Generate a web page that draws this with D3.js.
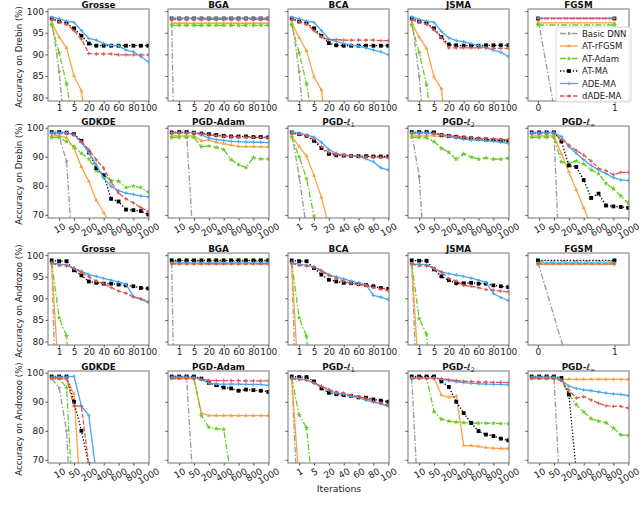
<!DOCTYPE html>
<html>
<head>
<meta charset="utf-8">
<script src="https://cdn.jsdelivr.net/npm/d3@7"></script>
<style>
  body { margin: 0; background: #fff; }
  svg { display: block; }
  text { font-family: 'DejaVu Sans', sans-serif; }
</style>
</head>
<body>
<svg width="640" height="509" id="mainsvg"></svg>
<script>
// series and tick labels
const seriesNames = ['Basic DNN', 'AT-rFGSM', 'AT-Adam', 'AT-MA', 'ADE-MA', 'dADE-MA'];
const ticks100 = ['1', '5', '20', '40', '60', '80', '100'];
const ticks1000 = ['10', '50', '200', '400', '600', '800', '1000'];
const ticksFgsm = ['0', '1'];
const tickIdx = [1, 3, 5, 7, 9, 11, 13];
const titlesA = ['Grosse', 'BGA', 'BCA', 'JSMA', 'FGSM'];
const titlesB = ['GDKDE', 'PGD-Adam', 'PGD-ℓ1', 'PGD-ℓ2', 'PGD-ℓ∞'];
const yTicksA = [80, 85, 90, 95, 100];
const yTicksB = [70, 80, 90, 100];

// accuracy values, one array per series (order as seriesNames), x = point index
const drebinGrosse = [
  [98.3, 86, 67.5],
  [97.3, 94.0, 91.5, 85.0, 81.5, 70],
  [96.8, 90.3, 83.2, 72],
  [98.3, 97.6, 97.2, 96.0, 94.3, 92.5, 92.0, 92.0, 92.0, 92.0, 92.0, 92.0, 92.0, 92.0],
  [98.6, 98.2, 97.7, 97.4, 95.5, 93.7, 93.3, 92.5, 92.1, 92.0, 91.0, 90.6, 89.5, 88.3],
  [98.1, 97.5, 97.0, 95.5, 93.5, 90.2, 90.1, 90.1, 90.1, 89.9, 89.9, 89.9, 89.9, 89.9]
];
const drebinBGA = [
  [98.3, 0],
  [97.2, 97.2, 97.2, 97.2, 97.2, 97.2, 97.2, 97.2, 97.2, 97.2, 97.2, 97.2, 97.2, 97.2],
  [96.7, 96.7, 96.7, 96.7, 96.7, 96.7, 96.7, 96.7, 96.7, 96.7, 96.7, 96.7, 96.7, 96.7],
  [98.3, 98.3, 98.3, 98.3, 98.3, 98.3, 98.3, 98.3, 98.3, 98.3, 98.3, 98.3, 98.3, 98.3],
  [98.4, 98.4, 98.4, 98.4, 98.4, 98.4, 98.4, 98.4, 98.4, 98.4, 98.4, 98.4, 98.4, 98.4],
  [98.1, 98.1, 98.1, 98.1, 98.1, 98.1, 98.1, 98.1, 98.1, 98.1, 98.1, 98.1, 98.1, 98.1]
];
const drebinBCA = [
  [98.3, 86, 67],
  [97.3, 93.9, 90.8, 84.8, 81.7, 68],
  [96.8, 90.3, 83.2, 72],
  [98.3, 97.6, 97.2, 96.0, 94.3, 92.6, 92.1, 92.0, 92.0, 92.0, 92.0, 92.0, 92.0, 92.0],
  [98.6, 98.2, 97.7, 97.4, 95.5, 93.5, 93.0, 92.5, 92.2, 91.9, 91.5, 91.0, 90.6, 89.9],
  [98.1, 97.5, 97.0, 95.5, 94.0, 93.4, 93.4, 93.3, 93.3, 93.3, 93.3, 93.3, 93.2, 93.2]
];
const drebinJSMA = [
  [98.3, 85, 65],
  [97.2, 94.0, 91.4, 84.8, 82.0, 65],
  [96.8, 90.4, 83.0, 70],
  [98.3, 97.6, 97.2, 96.0, 94.0, 92.3, 92.1, 92.0, 92.0, 92.0, 92.1, 92.1, 92.1, 92.1],
  [98.7, 98.1, 97.7, 97.4, 95.3, 93.8, 93.2, 92.9, 92.5, 92.0, 91.5, 91.0, 90.5, 89.5],
  [98.0, 97.5, 97.0, 95.7, 93.8, 91.5, 91.5, 91.5, 91.5, 91.5, 91.5, 91.4, 91.4, 91.4]
];
const drebinFGSM = [
  [98.3, 0],
  [97.3, 97.3],
  [96.8, 96.8],
  [98.3, 98.3],
  [98.4, 98.4],
  [98.3, 98.3]
];
const drebinGDKDE = [
  [98.3, 97.0, 88.5, 50],
  [97.2, 97.2, 96.5, 93.0, 86.5, 81.5, 75.0, 70.8, 66],
  [96.6, 96.7, 95.2, 93.5, 91.2, 89.2, 85.2, 83.8, 81.8, 81.6, 79.4, 79.9, 79.4, 77.9],
  [98.5, 98.5, 98.3, 97.8, 95.5, 91.5, 86.1, 83.6, 75.5, 74.6, 71.8, 71.6, 71.3, 70.1],
  [98.3, 98.3, 98.3, 97.6, 94.9, 91.4, 87.2, 82.7, 79.8, 78.3, 77.5, 77.0, 76.5, 76.2],
  [98.0, 98.0, 98.0, 97.5, 95.2, 92.4, 88.9, 86.1, 81.2, 77.5, 75.5, 74.1, 72.5, 71.2]
];
const drebinPGDAdam = [
  [98.3, 98.3, 98.3, 56],
  [97.2, 97.2, 97.2, 97.2, 95.5, 95.8, 95.0, 94.5, 94.0, 93.6, 93.5, 93.5, 93.4, 93.4],
  [96.6, 96.7, 96.7, 96.7, 93.5, 93.7, 93.2, 92.5, 89.0, 87.3, 86.3, 89.7, 89.3, 89.3],
  [98.4, 98.5, 98.5, 98.3, 98.0, 97.8, 97.5, 97.2, 97.0, 97.0, 97.0, 96.8, 96.8, 96.7],
  [98.3, 98.3, 98.3, 98.3, 97.5, 96.5, 95.9, 95.6, 95.3, 95.2, 95.1, 95.0, 95.0, 94.9],
  [98.2, 98.2, 98.2, 98.2, 97.9, 97.5, 97.3, 97.1, 96.9, 96.8, 96.7, 96.7, 96.6, 96.5]
];
const drebinPGDl1 = [
  [98.3, 83.2, 65],
  [97.3, 93.5, 90.2, 83.5, 76.0, 66],
  [96.8, 90.0, 82.5, 69.5],
  [98.4, 97.8, 97.2, 95.5, 93.0, 91.0, 90.5, 90.4, 90.3, 90.2, 90.2, 90.1, 90.1, 90.1],
  [98.5, 98.2, 97.5, 96.8, 95.0, 92.5, 91.2, 90.6, 90.4, 90.1, 89.3, 88.3, 86.2, 85.5],
  [98.0, 97.7, 97.2, 96.0, 93.5, 91.5, 90.8, 90.5, 90.3, 90.1, 90.0, 89.9, 89.8, 89.7]
];
const drebinPGDl2 = [
  [98.3, 83.2, 44],
  [97.2, 97.2, 97.2, 97.2, 97.0, 96.8, 96.5, 96.2, 96.0, 95.8, 95.6, 95.5, 95.4, 95.3],
  [96.7, 96.7, 96.6, 95.2, 92.9, 91.5, 89.2, 91.0, 89.9, 89.2, 89.6, 89.2, 89.2, 89.5],
  [98.5, 98.5, 98.5, 98.4, 97.5, 97.2, 96.9, 96.6, 96.4, 96.2, 96.0, 95.8, 95.6, 95.5],
  [98.3, 98.3, 98.3, 98.0, 97.5, 97.0, 96.5, 96.0, 95.8, 95.8, 95.5, 95.3, 95.0, 94.6],
  [98.0, 98.0, 98.0, 97.9, 97.6, 97.3, 97.0, 96.8, 96.6, 96.4, 96.3, 96.2, 96.0, 95.9]
];
const drebinPGDlinf = [
  [98.3, 98.3, 98.3, 98.3, 36],
  [97.2, 97.2, 97.2, 97.2, 91.0, 84.8, 78.6, 72.4, 66],
  [96.7, 96.7, 96.7, 96.7, 88.2, 87.8, 88.5, 87.5, 85.5, 84.2, 80.8, 79.0, 76.5, 74.0],
  [98.4, 98.4, 98.4, 98.4, 95.3, 87.0, 86.5, 82.0, 75.8, 77.3, 73.2, 72.9, 72.7, 72.4],
  [98.3, 98.3, 98.3, 98.3, 97.0, 93.5, 91.2, 89.0, 87.0, 85.5, 84.2, 82.8, 82.0, 81.8],
  [98.0, 98.0, 98.0, 98.0, 96.0, 94.0, 92.2, 90.6, 88.5, 86.0, 85.2, 83.8, 84.6, 84.6]
];
const androGrosse = [
  [98.3, 43],
  [98.0, 70],
  [98.2, 85.5, 81.3, 58],
  [98.8, 98.6, 98.6, 96.5, 95.3, 93.9, 93.6, 93.4, 93.4, 93.2, 93.0, 92.8, 92.4, 92.3],
  [98.3, 97.9, 97.8, 96.9, 96.3, 95.5, 95.1, 94.6, 94.2, 93.8, 93.3, 90.4, 89.8, 89.0],
  [98.1, 97.6, 97.5, 97.0, 96.0, 95.0, 94.0, 93.4, 92.5, 91.7, 91.2, 90.3, 89.9, 89.3]
];
const androBGA = [
  [98.3, 0],
  [98.0, 98.0, 98.0, 98.0, 98.0, 98.0, 98.0, 98.0, 98.0, 98.0, 98.0, 98.0, 98.0, 98.0],
  [98.6, 98.6, 98.6, 98.6, 98.6, 98.6, 98.6, 98.6, 98.6, 98.6, 98.6, 98.6, 98.6, 98.6],
  [98.8, 98.8, 98.8, 98.8, 98.8, 98.8, 98.8, 98.8, 98.8, 98.8, 98.8, 98.8, 98.8, 98.8],
  [98.2, 98.2, 98.2, 98.2, 98.2, 98.2, 98.2, 98.2, 98.2, 98.2, 98.2, 98.2, 98.2, 98.2],
  [98.0, 98.0, 98.0, 98.0, 98.0, 98.0, 98.0, 98.0, 98.0, 98.0, 98.0, 98.0, 98.0, 98.0]
];
const androBCA = [
  [98.3, 45],
  [98.0, 68],
  [98.2, 85.5, 81.2, 58],
  [98.8, 98.6, 98.6, 97.0, 95.5, 94.3, 93.9, 93.6, 93.5, 93.3, 93.1, 92.8, 92.4, 92.2],
  [98.3, 97.9, 97.7, 97.3, 96.5, 95.5, 95.0, 94.5, 94.0, 93.6, 93.1, 90.7, 90.3, 89.7],
  [98.1, 97.6, 97.5, 97.2, 96.3, 95.3, 94.6, 94.0, 93.5, 93.2, 92.9, 92.5, 92.1, 91.8]
];
const androJSMA = [
  [98.3, 55],
  [98.0, 71],
  [98.0, 85.3, 81.7, 58],
  [98.8, 98.7, 98.7, 96.7, 95.1, 94.2, 93.5, 93.5, 93.6, 93.4, 93.4, 93.0, 92.8, 92.6],
  [97.9, 97.9, 97.8, 96.9, 96.1, 95.7, 95.4, 95.1, 94.7, 94.2, 93.7, 91.1, 90.2, 89.5],
  [98.0, 97.5, 97.5, 96.9, 96.1, 94.6, 94.0, 93.0, 92.8, 92.5, 92.0, 91.9, 91.7, 91.5]
];
const androFGSM = [
  [98.3, 39],
  [97.9, 97.9],
  [98.6, 98.6],
  [98.8, 98.8],
  [98.2, 98.2],
  [98.0, 98.0]
];
const androGDKDE = [
  [98.0, 94.8, 80.0, 30],
  [97.9, 97.9, 97.8, 92.7, 53],
  [98.5, 98.0, 94.9, 47],
  [98.7, 98.7, 98.7, 90.0, 80.0, 68.5],
  [98.5, 98.5, 98.5, 98.8, 88.5, 85.3, 65],
  [98.0, 98.0, 98.0, 88.5, 88.5, 68]
];
const androPGDAdam = [
  [98.7, 98.7, 98.7, 56],
  [98.0, 98.0, 98.0, 98.0, 86.1, 85.2, 85.2, 85.2, 85.2, 85.2, 85.2, 85.2, 85.2, 85.2],
  [98.5, 98.3, 98.3, 98.0, 85.2, 81.2, 80.7, 80.5, 64.5],
  [98.7, 98.7, 98.7, 98.7, 98.0, 96.5, 95.7, 94.9, 94.6, 93.8, 94.2, 94.0, 93.8, 93.4],
  [98.5, 98.5, 98.5, 98.4, 97.5, 96.5, 96.1, 96.1, 96.1, 96.1, 96.0, 96.0, 96.0, 95.6],
  [98.0, 98.0, 98.0, 98.0, 97.8, 97.4, 97.3, 97.3, 97.3, 97.3, 97.2, 97.2, 97.2, 97.2]
];
const androPGDl1 = [
  [98.3, 45],
  [98.0, 62],
  [98.2, 85.5, 81.0, 55],
  [98.7, 98.5, 98.5, 97.0, 94.6, 93.1, 92.6, 92.3, 92.0, 91.5, 91.4, 90.8, 90.4, 90.0],
  [98.2, 98.0, 97.6, 96.3, 95.3, 94.0, 92.9, 92.6, 91.8, 91.5, 90.5, 89.9, 89.3, 88.4],
  [98.0, 97.6, 97.5, 96.5, 95.3, 94.2, 93.4, 93.0, 92.3, 91.7, 91.2, 90.1, 89.5, 88.9]
];
const androPGDl2 = [
  [98.3, 49],
  [98.2, 98.2, 98.2, 98.2, 92.3, 91.5, 92.0, 75.0, 74.9, 74.6, 74.2, 74.0, 73.9, 73.9],
  [98.3, 98.3, 98.3, 86.6, 84.0, 83.3, 83.0, 82.8, 82.7, 82.6, 82.6, 82.6, 82.5, 82.5],
  [98.7, 98.7, 98.7, 98.7, 97.0, 95.1, 90.0, 86.1, 82.7, 79.9, 78.7, 78.2, 77.3, 76.7],
  [98.3, 98.3, 98.3, 98.3, 97.8, 97.3, 96.9, 96.6, 96.4, 96.2, 96.1, 96.0, 96.0, 95.8],
  [98.0, 98.0, 98.0, 98.0, 98.0, 97.6, 97.3, 97.1, 97.0, 96.8, 96.8, 96.7, 96.7, 96.6]
];
const androPGDlinf = [
  [98.3, 98.3, 98.3, 98.3, 49],
  [98.0, 98.0, 98.0, 98.0, 97.7, 97.7, 97.7, 97.7, 97.7, 97.7, 97.7, 97.7, 97.7, 97.7],
  [98.3, 98.3, 98.3, 98.3, 97.5, 92.5, 89.0, 86.5, 84.2, 83.3, 82.8, 81.0, 78.6, 78.4],
  [98.7, 98.7, 98.7, 98.7, 98.2, 92.5, 66],
  [98.5, 98.5, 98.5, 98.5, 97.5, 95.4, 94.6, 94.1, 93.8, 93.4, 93.0, 92.7, 92.5, 92.1],
  [98.0, 98.0, 98.0, 98.0, 97.2, 94.0, 91.3, 91.8, 90.6, 89.5, 88.6, 88.4, 88.4, 87.8]
];

const rows = [
  { data: [drebinGrosse, drebinBGA, drebinBCA, drebinJSMA, drebinFGSM], titles: titlesA, yTicks: yTicksA,
    yDomain: [79.2, 100.5], xTypes: ['i100', 'i100', 'i100', 'i100', 'fgsm'], rotate: false, ylabel: 'Accuracy on Drebin (%)' },
  { data: [drebinGDKDE, drebinPGDAdam, drebinPGDl1, drebinPGDl2, drebinPGDlinf], titles: titlesB, yTicks: yTicksB,
    yDomain: [68.9, 100.6], xTypes: ['i1000', 'i1000', 'i100', 'i1000', 'i1000'], rotate: true, ylabel: 'Accuracy on Drebin (%)' },
  { data: [androGrosse, androBGA, androBCA, androJSMA, androFGSM], titles: titlesA, yTicks: yTicksA,
    yDomain: [79.2, 100.5], xTypes: ['i100', 'i100', 'i100', 'i100', 'fgsm'], rotate: false, ylabel: 'Accuracy on Androzoo (%)' },
  { data: [androGDKDE, androPGDAdam, androPGDl1, androPGDl2, androPGDlinf], titles: titlesB, yTicks: yTicksB,
    yDomain: [68.9, 100.6], xTypes: ['i1000', 'i1000', 'i100', 'i1000', 'i1000'], rotate: true, ylabel: 'Accuracy on Androzoo (%)' }
];

const svg = d3.select('#mainsvg');
const colLeft = [48, 168, 288, 408, 528];
const rowTop = [9, 126, 253, 371];
const pw = 101, ph = 92;

const colors = ['#9a9a9a', '#ffa040', '#66cc22', '#000000', '#46a8f5', '#dd5555'];
const dashes = ['6,2,1.5,2', null, '6,2,1.5,2', '1.3,1.9', null, '4.5,2'];

function marker(g, k, x, y) {
  const c = colors[k];
  if (k === 3) {
    g.append('rect').attr('x', x - 1.9).attr('y', y - 1.9).attr('width', 3.8).attr('height', 3.8).attr('fill', c);
  } else if (k === 4 || k === 5) {
    g.append('path').attr('d', `M${x - 1.8},${y}H${x + 1.8}M${x},${y - 1.8}V${y + 1.8}`)
      .attr('stroke', c).attr('stroke-width', 1);
  } else {
    const type = k === 2 ? d3.symbolStar : d3.symbolTriangle;
    g.append('path').attr('d', d3.symbol().type(type).size(k === 2 ? 9 : 7)())
      .attr('transform', `translate(${x},${y})${k === 0 ? ' rotate(90)' : ''}`).attr('fill', c);
  }
}

function drawTitle(txt, cx, y) {
  const t = svg.append('text').attr('x', cx).attr('y', y).attr('text-anchor', 'middle')
    .attr('font-size', 8.8).attr('font-weight', 'bold').attr('fill', '#111');
  if (txt.startsWith('PGD-ℓ')) {
    t.append('tspan').text('PGD-');
    t.append('tspan').text('ℓ').attr('font-style', 'italic').attr('font-weight', 'normal');
    t.append('tspan').text(txt.slice(5)).attr('font-size', 6.3).attr('dy', 2).attr('font-weight', 'normal');
  } else {
    t.text(txt);
  }
}

rows.forEach((row, r) => {
  const top = rowTop[r];
  const y = d3.scaleLinear().domain(row.yDomain).range([top + ph, top]);
  row.data.forEach((panel, c) => {
    const left = colLeft[c];
    const type = row.xTypes[c];
    const x = type === 'fgsm'
      ? d3.scaleLinear().domain([-0.13, 1.19]).range([left, left + pw])
      : d3.scaleLinear().domain([-0.5, 13.1]).range([left, left + pw]);

    const clipId = `clip${r}${c}`;
    svg.append('clipPath').attr('id', clipId).append('rect')
      .attr('x', left).attr('y', top).attr('width', pw).attr('height', ph);

    // axes
    const yAxis = d3.axisLeft(y).tickValues(row.yTicks).tickSize(2.5).tickPadding(1.5)
      .tickFormat(c === 0 ? d3.format('d') : () => '');
    const yg = svg.append('g').attr('transform', `translate(${left},0)`).call(yAxis);
    yg.select('.domain').remove();

    let xt, xl;
    if (type === 'fgsm') { xt = [0, 1]; xl = ticksFgsm; }
    else { xt = tickIdx; xl = type === 'i100' ? ticks100 : ticks1000; }
    const xAxis = d3.axisBottom(x).tickValues(xt).tickSize(2.5).tickPadding(1.5)
      .tickFormat((d, i) => xl[i]);
    const xg = svg.append('g').attr('transform', `translate(0,${top + ph})`).call(xAxis);
    xg.select('.domain').remove();

    [yg, xg].forEach(ax => {
      ax.selectAll('line').attr('stroke', '#444');
      ax.selectAll('text').attr('font-size', 9).attr('fill', '#222')
        .attr('font-family', 'DejaVu Sans, sans-serif');
    });
    if (row.rotate) {
      const ang = 30 * Math.PI / 180;
      xg.selectAll('text').each(function () {
        const t = d3.select(this);
        const w = this.getComputedTextLength();
        const bh = w * Math.sin(ang) + 7 * Math.cos(ang);
        t.attr('y', null).attr('dy', null).attr('text-anchor', 'middle')
          .attr('dominant-baseline', 'central')
          .attr('transform', `translate(0,${4.5 + bh / 2}) rotate(-30)`);
      });
    }

    // series
    const pg = svg.append('g').attr('clip-path', `url(#${clipId})`);
    const line = d3.line().x((d, i) => x(i)).y(d => y(d));
    panel.forEach((vals, k) => {
      pg.append('path').datum(vals).attr('d', line)
        .attr('fill', 'none').attr('stroke', colors[k]).attr('stroke-width', 1.3)
        .attr('stroke-dasharray', dashes[k]);
      vals.forEach((v, i) => marker(pg, k, x(i), y(v)));
    });

    svg.append('rect').attr('x', left).attr('y', top).attr('width', pw).attr('height', ph)
      .attr('fill', 'none').attr('stroke', '#808080').attr('stroke-width', 1.1);

    drawTitle(row.titles[c], left + pw / 2, top - 1.5);
  });

  svg.append('text').text(row.ylabel)
    .attr('transform', `translate(22,${top + ph / 2 + 2}) rotate(-90)`)
    .attr('text-anchor', 'middle').attr('font-size', 8.6).attr('fill', '#222');
});

svg.append('text').text('Iterations').attr('x', 339).attr('y', 491.5)
  .attr('text-anchor', 'middle').attr('font-size', 9.3).attr('fill', '#222');

// legend inside the first FGSM panel
const lg = svg.append('g');
lg.append('rect').attr('x', 556).attr('y', 27).attr('width', 75).attr('height', 75).attr('rx', 2)
  .attr('fill', '#fff').attr('fill-opacity', 0.85).attr('stroke', '#cccccc').attr('stroke-width', 0.8);
seriesNames.forEach((name, k) => {
  const ly = 33.5 + k * 12.5;
  lg.append('line').attr('x1', 560).attr('x2', 578).attr('y1', ly).attr('y2', ly)
    .attr('stroke', colors[k]).attr('stroke-width', 1.3).attr('stroke-dasharray', dashes[k]);
  marker(lg, k, 569, ly);
  lg.append('text').text(name).attr('x', 582).attr('y', ly).attr('dominant-baseline', 'central')
    .attr('font-size', 8.5).attr('fill', '#222');
});
</script>
</body>
</html>
